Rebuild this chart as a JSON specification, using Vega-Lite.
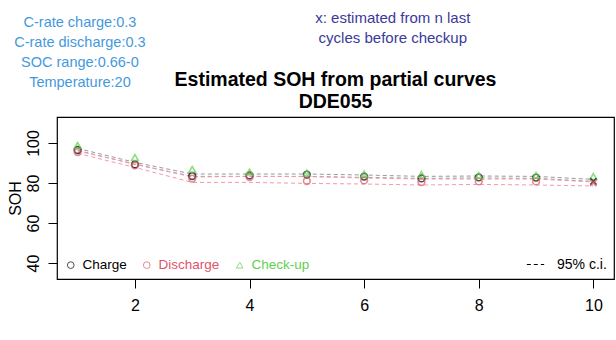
{
  "$schema": "https://vega.github.io/schema/vega-lite/v6.json",
  "width": 557,
  "height": 162,
  "autosize": {"type": "none"},
  "padding": {"left": 57, "top": 117, "right": 2, "bottom": 61},
  "background": "white",
  "config": {
    "font": "Liberation Sans",
    "view": {"stroke": "black", "strokeWidth": 1.2},
    "axis": {"grid": false, "domain": false, "tickColor": "black", "tickSize": 9, "labelColor": "black", "labelFont": "Liberation Sans", "labelFontSize": 16, "titleFont": "Liberation Sans", "titleFontWeight": "normal", "titleColor": "black", "titleFontSize": 16}
  },
  "datasets": {
    "pts": [
      {"cycle": 1, "series": "Charge", "soh": 96.5, "est": false},
      {"cycle": 2, "series": "Charge", "soh": 89.3, "est": false},
      {"cycle": 3, "series": "Charge", "soh": 83.5, "est": false},
      {"cycle": 4, "series": "Charge", "soh": 83.8, "est": false},
      {"cycle": 5, "series": "Charge", "soh": 84.2, "est": false},
      {"cycle": 6, "series": "Charge", "soh": 83.2, "est": false},
      {"cycle": 7, "series": "Charge", "soh": 82.3, "est": false},
      {"cycle": 8, "series": "Charge", "soh": 82.8, "est": false},
      {"cycle": 9, "series": "Charge", "soh": 82.7, "est": false},
      {"cycle": 10, "series": "Charge", "soh": 80.8, "est": true},
      {"cycle": 1, "series": "Discharge", "soh": 95.5, "est": false},
      {"cycle": 2, "series": "Discharge", "soh": 88.8, "est": false},
      {"cycle": 3, "series": "Discharge", "soh": 82.2, "est": false},
      {"cycle": 4, "series": "Discharge", "soh": 83.0, "est": false},
      {"cycle": 5, "series": "Discharge", "soh": 81.0, "est": false},
      {"cycle": 6, "series": "Discharge", "soh": 81.3, "est": false},
      {"cycle": 7, "series": "Discharge", "soh": 80.5, "est": false},
      {"cycle": 8, "series": "Discharge", "soh": 80.8, "est": false},
      {"cycle": 9, "series": "Discharge", "soh": 80.8, "est": false},
      {"cycle": 10, "series": "Discharge", "soh": 80.0, "est": true},
      {"cycle": 1, "series": "Check-up", "soh": 98.8, "est": false},
      {"cycle": 2, "series": "Check-up", "soh": 92.7, "est": false},
      {"cycle": 3, "series": "Check-up", "soh": 86.8, "est": false},
      {"cycle": 4, "series": "Check-up", "soh": 85.5, "est": false},
      {"cycle": 5, "series": "Check-up", "soh": 85.0, "est": false},
      {"cycle": 6, "series": "Check-up", "soh": 84.5, "est": false},
      {"cycle": 7, "series": "Check-up", "soh": 84.2, "est": false},
      {"cycle": 8, "series": "Check-up", "soh": 83.7, "est": false},
      {"cycle": 9, "series": "Check-up", "soh": 83.8, "est": false},
      {"cycle": 10, "series": "Check-up", "soh": 83.3, "est": false}
    ],
    "ci": [
      {"cycle": 1, "series": "Charge", "bound": "upper", "soh": 97.3, "ci": "95% c.i."},
      {"cycle": 2, "series": "Charge", "bound": "upper", "soh": 90.3, "ci": "95% c.i."},
      {"cycle": 3, "series": "Charge", "bound": "upper", "soh": 84.5, "ci": "95% c.i."},
      {"cycle": 4, "series": "Charge", "bound": "upper", "soh": 84.5, "ci": "95% c.i."},
      {"cycle": 5, "series": "Charge", "bound": "upper", "soh": 84.5, "ci": "95% c.i."},
      {"cycle": 6, "series": "Charge", "bound": "upper", "soh": 84.0, "ci": "95% c.i."},
      {"cycle": 7, "series": "Charge", "bound": "upper", "soh": 83.3, "ci": "95% c.i."},
      {"cycle": 8, "series": "Charge", "bound": "upper", "soh": 83.5, "ci": "95% c.i."},
      {"cycle": 9, "series": "Charge", "bound": "upper", "soh": 83.3, "ci": "95% c.i."},
      {"cycle": 10, "series": "Charge", "bound": "upper", "soh": 81.8, "ci": "95% c.i."},
      {"cycle": 1, "series": "Charge", "bound": "lower", "soh": 96.3, "ci": "95% c.i."},
      {"cycle": 2, "series": "Charge", "bound": "lower", "soh": 89.3, "ci": "95% c.i."},
      {"cycle": 3, "series": "Charge", "bound": "lower", "soh": 83.3, "ci": "95% c.i."},
      {"cycle": 4, "series": "Charge", "bound": "lower", "soh": 83.3, "ci": "95% c.i."},
      {"cycle": 5, "series": "Charge", "bound": "lower", "soh": 83.3, "ci": "95% c.i."},
      {"cycle": 6, "series": "Charge", "bound": "lower", "soh": 82.8, "ci": "95% c.i."},
      {"cycle": 7, "series": "Charge", "bound": "lower", "soh": 82.3, "ci": "95% c.i."},
      {"cycle": 8, "series": "Charge", "bound": "lower", "soh": 82.5, "ci": "95% c.i."},
      {"cycle": 9, "series": "Charge", "bound": "lower", "soh": 82.3, "ci": "95% c.i."},
      {"cycle": 10, "series": "Charge", "bound": "lower", "soh": 80.8, "ci": "95% c.i."},
      {"cycle": 1, "series": "Discharge", "bound": "upper", "soh": 96.0, "ci": "95% c.i."},
      {"cycle": 2, "series": "Discharge", "bound": "upper", "soh": 89.5, "ci": "95% c.i."},
      {"cycle": 3, "series": "Discharge", "bound": "upper", "soh": 83.0, "ci": "95% c.i."},
      {"cycle": 4, "series": "Discharge", "bound": "upper", "soh": 83.3, "ci": "95% c.i."},
      {"cycle": 5, "series": "Discharge", "bound": "upper", "soh": 83.2, "ci": "95% c.i."},
      {"cycle": 6, "series": "Discharge", "bound": "upper", "soh": 82.5, "ci": "95% c.i."},
      {"cycle": 7, "series": "Discharge", "bound": "upper", "soh": 82.0, "ci": "95% c.i."},
      {"cycle": 8, "series": "Discharge", "bound": "upper", "soh": 82.0, "ci": "95% c.i."},
      {"cycle": 9, "series": "Discharge", "bound": "upper", "soh": 82.0, "ci": "95% c.i."},
      {"cycle": 10, "series": "Discharge", "bound": "upper", "soh": 80.5, "ci": "95% c.i."},
      {"cycle": 1, "series": "Discharge", "bound": "lower", "soh": 94.8, "ci": "95% c.i."},
      {"cycle": 2, "series": "Discharge", "bound": "lower", "soh": 87.8, "ci": "95% c.i."},
      {"cycle": 3, "series": "Discharge", "bound": "lower", "soh": 80.3, "ci": "95% c.i."},
      {"cycle": 4, "series": "Discharge", "bound": "lower", "soh": 80.3, "ci": "95% c.i."},
      {"cycle": 5, "series": "Discharge", "bound": "lower", "soh": 79.8, "ci": "95% c.i."},
      {"cycle": 6, "series": "Discharge", "bound": "lower", "soh": 79.5, "ci": "95% c.i."},
      {"cycle": 7, "series": "Discharge", "bound": "lower", "soh": 79.0, "ci": "95% c.i."},
      {"cycle": 8, "series": "Discharge", "bound": "lower", "soh": 79.3, "ci": "95% c.i."},
      {"cycle": 9, "series": "Discharge", "bound": "lower", "soh": 79.0, "ci": "95% c.i."},
      {"cycle": 10, "series": "Discharge", "bound": "lower", "soh": 78.5, "ci": "95% c.i."}
    ]
  },
  "encoding": {
    "x": {"type": "quantitative", "scale": {"domain": [0.64, 10.36], "nice": false, "zero": false}, "axis": {"values": [2, 4, 6, 8, 10], "title": null, "labelPadding": 9}},
    "y": {"type": "quantitative", "scale": {"domain": [32, 113], "nice": false, "zero": false}, "axis": {"values": [40, 60, 80, 100], "title": "SOH", "labelAngle": -90, "labelAlign": "center", "labelBaseline": "bottom", "labelPadding": 7, "titlePadding": 2}}
  },
  "layer": [
    {
      "data": {"name": "ci"},
      "mark": {"type": "line", "strokeWidth": 1, "clip": true},
      "encoding": {
        "x": {"field": "cycle", "type": "quantitative"},
        "y": {"field": "soh", "type": "quantitative"},
        "detail": [{"field": "series"}, {"field": "bound"}],
        "stroke": {"field": "series", "type": "nominal", "scale": {"domain": ["Charge", "Discharge"], "range": ["#9A9A9A", "#F29AAB"]}, "legend": null},
        "strokeDash": {"field": "ci", "type": "nominal", "scale": {"range": [[4, 3]]}, "legend": {"title": null, "orient": "bottom-right", "offset": 7, "padding": 0, "symbolStrokeColor": "black", "symbolSize": 300, "symbolStrokeWidth": 1, "labelFontSize": 14, "labelFont": "Liberation Sans", "labelColor": "black", "labelOffset": 12}}
      }
    },
    {
      "data": {"name": "pts"},
      "transform": [{"filter": "!datum.est"}],
      "mark": {"type": "point", "filled": false, "strokeWidth": 1.6},
      "encoding": {
        "x": {"field": "cycle", "type": "quantitative"},
        "y": {"field": "soh", "type": "quantitative"},
        "color": {"field": "series", "type": "nominal", "scale": {"domain": ["Charge", "Discharge", "Check-up"], "range": ["black", "#DF536B", "#61D04F"]},
          "legend": {"title": null, "orient": "bottom-left", "direction": "horizontal", "offset": 7, "padding": 0, "symbolSize": 22, "symbolStrokeWidth": 1, "labelFontSize": 13.5, "labelFont": "Liberation Sans", "columnPadding": 13, "labelOffset": 5,
            "labelColor": {"expr": "datum.label == 'Charge' ? 'black' : datum.label == 'Discharge' ? '#DF536B' : '#61D04F'"}}},
        "shape": {"field": "series", "type": "nominal", "scale": {"domain": ["Charge", "Discharge", "Check-up"], "range": ["circle", "circle", "triangle-up"]}},
        "size": {"field": "series", "type": "nominal", "scale": {"domain": ["Charge", "Discharge", "Check-up"], "range": [45, 45, 110]}, "legend": null}
      }
    },
    {
      "data": {"name": "pts"},
      "transform": [{"filter": "datum.est"}],
      "mark": {"type": "point", "filled": false, "strokeWidth": 1.6, "size": 40, "shape": "M-1,-1L1,1M-1,1L1,-1"},
      "encoding": {
        "x": {"field": "cycle", "type": "quantitative"},
        "y": {"field": "soh", "type": "quantitative"},
        "color": {"field": "series", "type": "nominal"}
      }
    },
    {
      "data": {"values": [{}]},
      "mark": {"type": "text", "font": "Liberation Sans", "fontSize": 14.5, "color": "#4499DD", "align": "center", "baseline": "top", "lineHeight": 20, "lineBreak": "\n"},
      "encoding": {
        "x": {"datum": 1.04},
        "y": {"datum": 163.5},
        "text": {"value": "C-rate charge:0.3\nC-rate discharge:0.3\nSOC range:0.66-0\nTemperature:20"}
      }
    },
    {
      "data": {"values": [{}]},
      "mark": {"type": "text", "font": "Liberation Sans", "fontSize": 15, "color": "#3A3A9A", "align": "center", "baseline": "top", "lineHeight": 20, "lineBreak": "\n"},
      "encoding": {
        "x": {"datum": 6.5},
        "y": {"datum": 166},
        "text": {"value": "x: estimated from n last\n   cycles before checkup"}
      }
    },
    {
      "data": {"values": [{}]},
      "mark": {"type": "text", "font": "Liberation Sans", "fontSize": 19.5, "fontWeight": "bold", "color": "black", "align": "center", "baseline": "top", "lineHeight": 22, "lineBreak": "\n"},
      "encoding": {
        "x": {"datum": 5.5},
        "y": {"datum": 136},
        "text": {"value": "Estimated SOH from partial curves\nDDE055"}
      }
    }
  ]
}
